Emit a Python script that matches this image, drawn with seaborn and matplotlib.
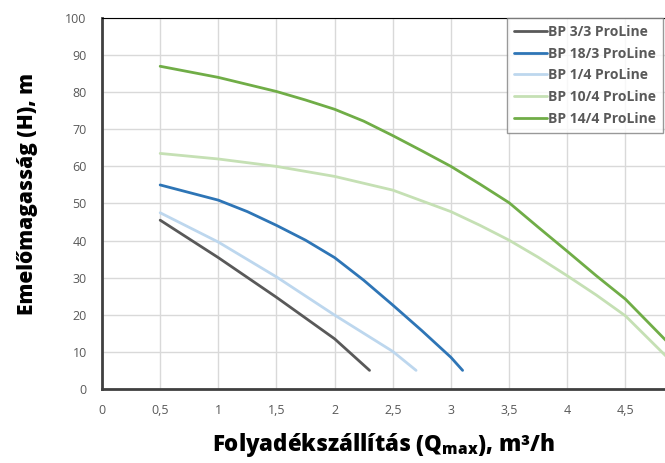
import numpy as np
import pandas as pd
import seaborn as sns
import matplotlib.pyplot as plt
from matplotlib.ticker import FuncFormatter

# Pump curves
q_33 = [0.5, 1.0, 1.5, 2.0, 2.3]
h_33 = [45.5, 35.4, 24.7, 13.5, 5.0]

q_183 = [0.5, 1.0, 1.25, 1.5, 1.75, 2.0, 2.25, 2.5, 2.75, 3.0, 3.1]
h_183 = [55.0, 50.9, 47.8, 44.1, 40.1, 35.4, 29.3, 22.6, 15.7, 8.5, 5.0]

q_14 = [0.5, 1.0, 1.5, 2.0, 2.5, 2.7]
h_14 = [47.5, 39.6, 30.2, 19.9, 10.1, 5.0]

q_104 = [0.5, 1.0, 1.5, 2.0, 2.5, 3.0, 3.25, 3.5, 3.75, 4.0, 4.25, 4.5, 4.85]
h_104 = [63.5, 62.0, 60.0, 57.3, 53.6, 47.8, 44.1, 40.1, 35.5, 30.5, 25.3, 19.7, 8.8]

q_144 = [0.5, 1.0, 1.5, 1.75, 2.0, 2.25, 2.5, 2.75, 3.0, 3.25, 3.5,
         3.75, 4.0, 4.25, 4.5, 4.85]
h_144 = [87.0, 84.0, 80.2, 77.9, 75.4, 72.2, 68.3, 64.2, 60.0, 55.2, 50.2,
         43.6, 37.1, 30.5, 24.2, 13.0]

names = ["BP 3/3 ProLine", "BP 18/3 ProLine", "BP 1/4 ProLine",
         "BP 10/4 ProLine", "BP 14/4 ProLine"]
colors = ["#595959", "#2e75b6", "#bdd7ee", "#c5e0b4", "#70ad47"]

frames = []
for name, q, h in zip(names, [q_33, q_183, q_14, q_104, q_144],
                      [h_33, h_183, h_14, h_104, h_144]):
    frames.append(pd.DataFrame({"Q": q, "H": h, "pump": name}))
df = pd.concat(frames, ignore_index=True)

sns.set_style("white")
plt.rcParams['font.family'] = ['Open Sans', 'DejaVu Sans']
plt.rcParams['mathtext.default'] = 'regular'

fig = plt.figure(figsize=(6.65, 4.63), dpi=100)
ax = fig.add_axes([0.1534, 0.16, 0.8466, 0.801])

sns.lineplot(data=df, x="Q", y="H", hue="pump", palette=colors,
             hue_order=names, sort=False, estimator=None, linewidth=2, ax=ax)

ax.set_xlim(0, 4.84)
ax.set_ylim(0, 100)
ax.set_xticks(np.arange(0, 5.0, 0.5))
ax.set_yticks(np.arange(0, 101, 10))
ax.xaxis.set_major_formatter(FuncFormatter(lambda v, p: f"{v:g}".replace(".", ",")))
ax.grid(True, color="#d9d9d9", linewidth=1)
ax.set_axisbelow(True)

for s in ["left", "bottom"]:
    ax.spines[s].set_color("#404040")
    ax.spines[s].set_linewidth(2)
ax.spines["top"].set_color("black")
ax.spines["top"].set_linewidth(0.8)
ax.spines["right"].set_visible(False)

ax.tick_params(axis="both", colors="#404040", labelcolor="#595959",
               labelsize=9, length=5, width=1, direction="out", pad=6)

ax.set_xlabel("")
ax.set_ylabel("")
fig.text(0.576, 0.038, "Folyadékszállítás (Q$_{max}$), m³/h", fontsize=16,
         fontweight="heavy", color="black", ha="center", va="center")
fig.text(0.042, 0.58, "Emelőmagasság (H), m", fontsize=15, fontweight="heavy",
         color="black", ha="center", va="center", rotation=90)

leg = ax.legend(loc="upper right", bbox_to_anchor=(0.997, 1.0), borderaxespad=0,
                frameon=True, fancybox=False, edgecolor="#808080",
                handlelength=2.4, handletextpad=0.1, borderpad=0.5,
                labelspacing=0.55, prop={"size": 10, "weight": "bold"})
leg.get_frame().set_linewidth(1)
for t in leg.get_texts():
    t.set_color("#595959")

fig.savefig("out.png", dpi=100)
